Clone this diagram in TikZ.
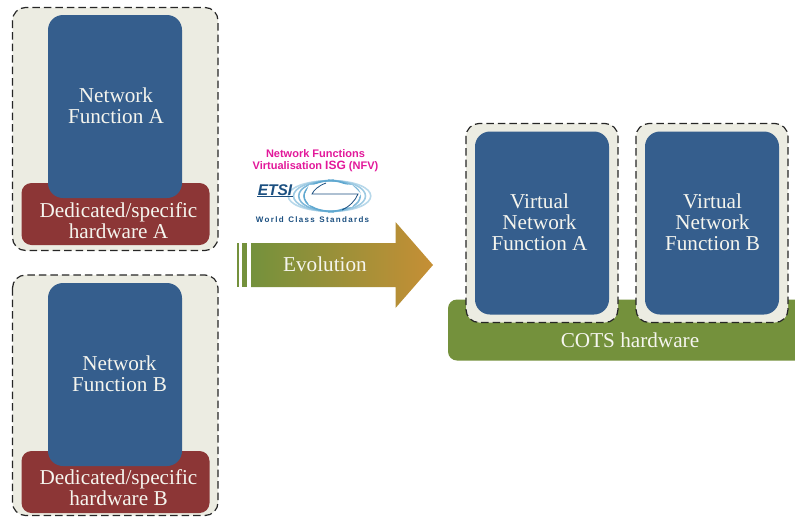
\documentclass[tikz,border=0pt]{standalone}
\usepackage{fontspec}
\setmainfont{Liberation Serif}
\newfontfamily\logofont{Liberation Sans}
\usetikzlibrary{positioning}
\definecolor{panelgray}{HTML}{ECECE2}
\definecolor{funcblue}{HTML}{355E8D}
\definecolor{hwred}{HTML}{8C3636}
\definecolor{cotsgreen}{HTML}{74913C}
\definecolor{evoorange}{HTML}{C68F35}
\definecolor{labelwhite}{HTML}{F5F5EE}
\definecolor{logopink}{HTML}{E2189A}
\definecolor{logoblue}{HTML}{1B4F80}
\definecolor{logosky}{HTML}{5FA8D0}
\tikzset{
    panel/.style={draw=black!85, line width=1.2pt, dash pattern=on 7.5pt off 4pt, fill=panelgray, rounded corners=13pt},
    funcbox/.style={fill=funcblue, rounded corners=15pt},
    hwbox/.style={fill=hwred, rounded corners=10pt},
    boxlabel/.style={text=labelwhite, font=\fontsize{21.2}{21}\selectfont, align=center, inner sep=0pt},
}
\begin{document}
\begin{tikzpicture}[x=1pt,y=-1pt]
    \useasboundingbox (0,0) rectangle (795,517);

    % left column
    \draw[panel] (12.5,7.5) rectangle (218,250.5);
    \fill[hwbox] (21.5,183) rectangle (209.5,245);
    \fill[funcbox] (48,15) rectangle (182,198);
    \node[boxlabel] (funcA) at (116,106) {Network\\Function A};
    \node[boxlabel] (hwA) at (118.5,220.5) {Dedicated/specific\\hardware A};

    \draw[panel] (12.5,275) rectangle (218,515.5);
    \fill[hwbox] (21.5,451) rectangle (209.5,513);
    \fill[funcbox] (48,283) rectangle (182,466);
    \node[boxlabel] (funcB) at (119.5,374) {Network\\Function B};
    \node[boxlabel] (hwB) at (118.5,487.5) {Dedicated/specific\\hardware B};

    % right side
    \fill[cotsgreen, rounded corners=9pt] (448,299.5) rectangle (815,360.5);
    \draw[panel] (466,123.5) rectangle (618,322.5);
    \draw[panel] (636,123.5) rectangle (788,322.5);
    \fill[funcbox] (475,131.5) rectangle (609,314.5);
    \fill[funcbox] (645,131.5) rectangle (779,314.5);
    \node[boxlabel] (vnfA) at (539.5,222.5) {Virtual\\Network\\Function A};
    \node[boxlabel] (vnfB) at (712.5,222.5) {Virtual\\Network\\Function B};
    \node[boxlabel] (cots) at (630,340.5) {COTS hardware};

    % arrow
    \fill[cotsgreen] (237,243) rectangle (239,287);
    \fill[cotsgreen] (242,243) rectangle (247,287);
    \path[left color=cotsgreen, right color=evoorange] (251,243) -- (395.5,243) -- (395.5,222) -- (433,265) -- (395.5,308) -- (395.5,287) -- (251,287) -- cycle;
    \node[boxlabel] (evo) at (325,264.5) {Evolution};

    % logo
    \node[text=logopink, font=\logofont\bfseries\fontsize{11}{12}\selectfont, align=center, inner sep=0pt] (nfv) at (315.5,161) {Network Functions\\Virtualisation {\fontsize{12}{12}\selectfont ISG} (NFV)};
    \foreach \w/\c in {273/45,280/60,287/80,294/100} {
        \draw[logosky!\c!white, line width=1.6pt] (334,180.5) .. controls (\w,180.5) and (\w,211.5) .. (334,211.5);
    }
    \foreach \w/\c in {385/45,378/60,371/80,364/100} {
        \draw[logosky!\c!white, line width=1.6pt] (328,180.5) .. controls (\w,180.5) and (\w,211.5) .. (328,211.5);
    }
    \fill[white] (309,185) -- (331,183) -- (352,185) -- (361,194) -- (352,207) -- (331,209) -- (309,205) -- (305,195) -- cycle;
    \draw[logoblue, line width=0.8pt] (326,183) .. controls (318,186) and (314,190) .. (312,194) -- (358,194) .. controls (355,201) and (350,206) .. (342,210);
    \node[text=logoblue, font=\logofont\bfseries\itshape\fontsize{15.5}{15.5}\selectfont, inner sep=0pt] (etsi) at (275,190.5) {ETSI};
    \fill[logoblue] (257,196) rectangle (293,197);
    \node[text=logoblue, font=\logofont\bfseries\fontsize{8}{9}\selectfont, inner sep=0pt] (wcs) at (312.5,220) {W\,o\,r\,l\,d\ \ C\,l\,a\,s\,s\ \ S\,t\,a\,n\,d\,a\,r\,d\,s};
\end{tikzpicture}
\end{document}
